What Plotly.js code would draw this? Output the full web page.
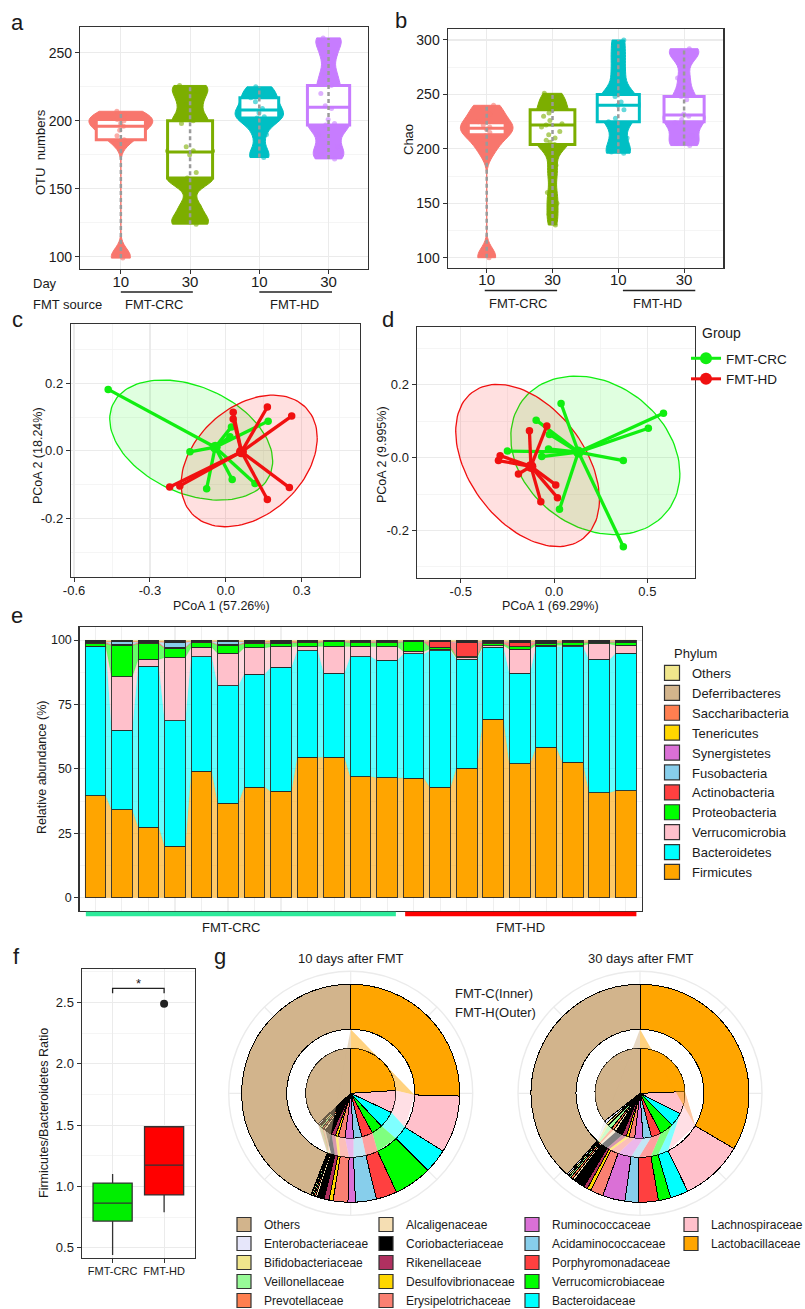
<!DOCTYPE html>
<html><head><meta charset="utf-8">
<script src="https://cdn.plot.ly/plotly-3.0.1.min.js"></script>
<style>html,body{margin:0;padding:0;background:#fff}#chart{width:805px;height:1309px}</style>
</head><body><div id="chart"></div>
<script>
// ================= DATA =================
// Panel a: OTU numbers (estimated per-sample values)
const dayLabels = ['10', '30', '10', '30'];
const otuCRC10 = [99, 101, 186, 189, 193, 196, 198, 200, 201, 203, 205, 207];
const otuCRC30 = [124, 126, 137, 155, 158, 162, 175, 178, 181, 198, 200, 212, 222, 226];
const otuHD10  = [173, 176, 190, 201, 202, 203, 206, 209, 214, 217, 222, 225];
const otuHD30  = [172, 175, 181, 190, 197, 198, 201, 209, 211, 220, 226, 235, 248, 258, 261];
const otuQ1 = [186, 158, 202, 197];
const otuMedian = [196, 177, 208, 210];
const otuQ3 = [201, 200, 217, 226];
// Panel b: Chao
const chaoCRC10 = [100, 102, 197, 205, 212, 215, 218, 220, 222, 225, 232, 238, 240];
const chaoCRC30 = [130, 140, 150, 160, 175, 185, 200, 204, 206, 208, 210, 213, 216, 220, 222, 223, 226, 230, 233, 236, 240, 245, 248, 251];
const chaoHD10  = [196, 197, 210, 225, 228, 236, 240, 243, 248, 255, 270, 285, 300];
const chaoHD30  = [203, 205, 212, 224, 227, 230, 232, 245, 248, 265, 285, 290, 292];
const chaoQ1 = [213, 204, 225, 225];
const chaoMedian = [219, 222, 240, 231];
const chaoQ3 = [224, 236, 250, 248];
// Panel c: PCoA (57.26% / 18.24%)
const cCrcX = [-0.465, -0.142, -0.076, 0.022, 0.016, 0.025, 0.167, 0.115];
const cCrcY = [0.182, -0.003, -0.112, 0.071, 0.042, -0.085, 0.088, -0.097];
const cHdX  = [0.029, 0.029, 0.164, 0.260, 0.251, 0.164, -0.222, -0.182];
const cHdY  = [0.114, 0.094, 0.130, 0.103, -0.109, -0.144, -0.107, -0.104];
// ellipse summaries: [centerX, centerY, halfExtentX, halfExtentY, tilt (cos phi)]
const cCrcEllipse = [-0.137, 0.032, 0.322, 0.178, -0.35];
const cHdEllipse  = [0.092, -0.030, 0.269, 0.195, 0.35];
// Panel d: PCoA (69.29% / 9.995%)
const dCrcX = [0.0375, -0.096, -0.025, -0.030, -0.066, -0.25, 0.586, 0.505, 0.371, 0.029, 0.371];
const dCrcY = [0.149, 0.103, 0.064, 0.024, 0.003, 0.018, 0.122, 0.081, -0.008, -0.142, -0.245];
const dHdX  = [-0.132, -0.039, -0.289, -0.298, -0.191, 0.009, 0.018, -0.071];
const dHdY  = [0.074, 0.087, 0.0055, -0.008, -0.045, -0.075, -0.110, -0.121];
const dCrcEllipse = [0.221, 0.0064, 0.453, 0.218, -0.23];
const dHdEllipse  = [-0.142, -0.0215, 0.385, 0.223, -0.42];
const groupNames = ['FMT-CRC', 'FMT-HD'];
// Panel e: phylum relative abundance (%) for 21 samples (12 FMT-CRC, 9 FMT-HD)
const sampleIdx = [1,2,3,4,5,6,7,8,9,10,11,12,13,14,15,16,17,18,19,20,21];
const firmicutes      = [39.5,34.1,27.4,19.9,49.0,36.7,42.9,41.2,54.5,54.5,47.0,46.5,46.4,42.8,50.3,69.3,51.9,58.3,52.5,40.8,41.5];
const bacteroidetes   = [57.9,30.8,62.5,48.8,44.5,45.5,43.9,48.2,41.4,32.6,46.5,45.7,48.2,53.1,42.3,27.9,35.2,39.3,44.9,51.7,53.3];
const verrucomicrobia = [0.2,20.9,2.6,24.5,3.7,12.6,10.2,8.0,1.7,10.6,4.1,5.3,1.0,0.6,0.5,0.7,9.4,0.4,0.6,6.0,3.2];
const proteobacteria  = [1.0,12.2,6.1,3.6,1.8,3.2,1.6,1.4,1.4,1.6,1.4,1.5,3.7,0.8,0.5,0.7,1.0,0.8,1.0,0.6,1.2];
const actinobacteria  = [0.6,0.3,0.5,0.4,0.3,0.3,0.5,0.4,0.3,0.2,0.3,0.3,0.2,2.0,5.5,0.5,1.5,0.4,0.3,0.3,0.2];
const fusobacteria    = [0.1,1.0,0.2,1.8,0.2,1.2,0.2,0.1,0.1,0.1,0.1,0.1,0.1,0.1,0.1,0.2,0.2,0.1,0.1,0.1,0.1];
const synergistetes   = [0.1,0.1,0.1,0.2,0.1,0.1,0.1,0.1,0.1,0.1,0.1,0.1,0.1,0.1,0.1,0.1,0.1,0.1,0.1,0.1,0.1];
const tenericutes     = [0.1,0.1,0.1,0.2,0.1,0.1,0.1,0.1,0.1,0.1,0.1,0.1,0.1,0.1,0.1,0.1,0.1,0.1,0.1,0.1,0.1];
const saccharibacteria= [0.1,0.1,0.1,0.2,0.1,0.1,0.1,0.1,0.1,0.05,0.1,0.1,0.05,0.1,0.1,0.1,0.1,0.1,0.1,0.1,0.1];
const deferribacteres = [0.1,0.1,0.1,0.2,0.1,0.1,0.1,0.1,0.1,0.05,0.1,0.1,0.05,0.1,0.2,0.1,0.2,0.1,0.1,0.1,0.1];
const otherPhyla      = [0.3,0.3,0.3,0.2,0.1,0.1,0.3,0.3,0.2,0.1,0.2,0.2,0.1,0.2,0.3,0.3,0.3,0.3,0.2,0.1,0.1];
const phylumNames = ['Firmicutes','Bacteroidetes','Verrucomicrobia','Proteobacteria','Actinobacteria','Fusobacteria','Synergistetes','Tenericutes','Saccharibacteria','Deferribacteres','Others'];
// Panel f: Firmicutes/Bacteroidetes ratio box statistics
const fbGroups = ['FMT-CRC', 'FMT-HD'];
const fbQ1 = [0.717, 0.93];
const fbMedian = [0.864, 1.174];
const fbQ3 = [1.027, 1.486];
const fbLower = [0.44, 0.79];
const fbUpper = [1.10, 1.486];
const fbOutlierGroup = ['FMT-HD'];
const fbOutlierValue = [2.49];
// Panel g: family composition (%), listed clockwise from 12 o'clock
const familyNames = ['Lactobacillaceae','Lachnospiraceae','Bacteroidaceae','Verrucomicrobiaceae','Porphyromonadaceae','Acidaminococcaceae','Ruminococcaceae','Erysipelotrichaceae','Desulfovibrionaceae','Rikenellaceae','Coriobacteriaceae','Alcaligenaceae','Prevotellaceae','Veillonellaceae','Bifidobacteriaceae','Enterobacteriaceae','Others'];
const day10Inner = [24, 8, 6, 4, 4, 3, 3, 2.5, 1, 1.5, 2.5, 0.8, 0.7, 0.8, 0.6, 0.6, 37];
const day10Outer = [25.4, 8.5, 3.6, 5.6, 3.1, 3.1, 1.1, 2.2, 0.6, 0.75, 1.0, 0.3, 0.2, 0.2, 0.2, 0.1, 44.05];
const day30Inner = [24.4, 8, 5, 5, 3.5, 3, 3, 2, 1, 1.5, 2.5, 1, 1, 1.5, 1, 1, 35.6];
const day30Outer = [33.47, 9.31, 2.67, 1.83, 3.0, 1.94, 3.33, 1.94, 0.56, 0.56, 1.67, 0.33, 0.33, 0.28, 0.22, 0.22, 38.34];

// ================= STYLE =================
const W = 805, H = 1309;
const px = x => x / W, py = y => 1 - y / H;
const FONT = 'Liberation Sans, Arial, Helvetica, sans-serif';
const TXT = '#1a1a1a';
const GRID = '#EBEBEB', MINOR = '#F3F3F3', FRAME = '#333333';
const COL4 = ['#F8766D', '#7CAE00', '#00BFC4', '#C77CFF'];
const COL4PT = ['rgba(248,118,109,0.6)', 'rgba(124,174,0,0.6)', 'rgba(0,191,196,0.6)', 'rgba(199,124,255,0.6)'];
const GREEN = '#11EE11', RED = '#F01010';
const PHY_COL = {Firmicutes:'#FFA500', Bacteroidetes:'#00FFFF', Verrucomicrobia:'#FFC0CB', Proteobacteria:'#00FF00', Actinobacteria:'#FF4040', Fusobacteria:'#87CEEB', Synergistetes:'#DA70D6', Tenericutes:'#FFD700', Saccharibacteria:'#FF7F50', Deferribacteres:'#D2B48C', Others:'#F0E68C'};
const FAM_COL = {Lactobacillaceae:'#FFA500', Lachnospiraceae:'#FFC0CB', Bacteroidaceae:'#00FFFF', Verrucomicrobiaceae:'#00FF00', Porphyromonadaceae:'#FF4040', Acidaminococcaceae:'#87CEEB', Ruminococcaceae:'#DA70D6', Erysipelotrichaceae:'#FA8072', Desulfovibrionaceae:'#FFD700', Rikenellaceae:'#B03060', Coriobacteriaceae:'#000000', Alcaligenaceae:'#F5DEB3', Prevotellaceae:'#FF7F50', Veillonellaceae:'#98FB98', Bifidobacteriaceae:'#F0E68C', Enterobacteriaceae:'#E6E6FA', Others:'#D2B48C'};
function rgba(hex, a){ const n=parseInt(hex.slice(1),16); return `rgba(${n>>16&255},${n>>8&255},${n&255},${a})`; }

const traces = [];
const shapes = [];
const annotations = [];
function ann(text, x, y, size, o){ annotations.push(Object.assign({text, x:px(x), y:py(y), xref:'paper', yref:'paper', showarrow:false, xanchor:'center', yanchor:'middle', font:{family:FONT, size:size||13, color:TXT}}, o||{})); }

function axis(extra){
  return Object.assign({showline:true, mirror:true, linecolor:FRAME, linewidth:1.2, ticks:'outside', ticklen:4, tickcolor:FRAME, tickwidth:1,
    showgrid:true, gridcolor:GRID, gridwidth:1.1, zeroline:false, tickfont:{family:FONT, size:13, color:TXT}, fixedrange:true}, extra);
}

// ================= PANELS a, b =================
function violinPanel(groups, q1, med, q3, xa, ya, vWidth, bWidth, bandw){
  groups.forEach((vals, i) => traces.push({type:'violin', x:vals.map(() => i), y:vals, xaxis:xa, yaxis:ya,
    fillcolor:COL4[i], line:{color:COL4[i], width:1}, opacity:1, points:false, box:{visible:false}, meanline:{visible:false},
    spanmode:'hard', scalemode:'width', width:vWidth[i], bandwidth:bandw, showlegend:false, hoverinfo:'skip'}));
  groups.forEach((vals, i) => traces.push({type:'box', x:[i], q1:[q1[i]], median:[med[i]], q3:[q3[i]], lowerfence:[q1[i]], upperfence:[q3[i]],
    xaxis:xa, yaxis:ya, fillcolor:'#ffffff', line:{color:COL4[i], width:3}, width:bWidth[i], whiskerwidth:0, boxpoints:false, showlegend:false, hoverinfo:'skip'}));
  groups.forEach((vals, i) => traces.push({type:'box', x:vals.map(() => i), y:vals, xaxis:xa, yaxis:ya, boxpoints:'all', jitter:0.7, pointpos:0, width:0.5,
    fillcolor:'rgba(0,0,0,0)', line:{color:'rgba(0,0,0,0)', width:0}, marker:{color:COL4PT[i], size:5}, showlegend:false, hoverinfo:'skip'}));
  groups.forEach((vals, i) => traces.push({type:'scatter', mode:'lines', x:[i, i], y:[Math.min(...vals), Math.max(...vals)], xaxis:xa, yaxis:ya,
    line:{color:'#9a9a9a', width:2.5, dash:'4px,3px'}, showlegend:false, hoverinfo:'skip'}));
}
violinPanel([otuCRC10, otuCRC30, otuHD10, otuHD30], otuQ1, otuMedian, otuQ3, 'x', 'y', [0.92, 0.7, 0.7, 0.62], [0.71, 0.65, 0.56, 0.61], 6);
violinPanel([chaoCRC10, chaoCRC30, chaoHD10, chaoHD30], chaoQ1, chaoMedian, chaoQ3, 'x2', 'y2', [0.8, 0.62, 0.66, 0.64], [0.56, 0.68, 0.64, 0.61], 8);

// ================= PANELS c, d =================
function ellipseXY(e){
  const [cx, cy, sx, sy, c] = e; const s = Math.sqrt(1 - c*c); const xs = [], ys = [];
  for (let k = 0; k <= 120; k++){ const t = 2*Math.PI*k/120; xs.push(cx + sx*Math.cos(t)); ys.push(cy + sy*(Math.cos(t)*c + Math.sin(t)*s)); }
  return [xs, ys];
}
function mean(a){ return a.reduce((p, v) => p + v, 0) / a.length; }
function pcoaPanel(gx, gy, hx, hy, eG, eH, xa, ya){
  [[eG, GREEN, 'rgba(0,255,0,0.12)'], [eH, RED, 'rgba(255,0,0,0.12)']].forEach(([e, col, fc]) => {
    const [xs, ys] = ellipseXY(e);
    traces.push({type:'scatter', mode:'lines', x:xs, y:ys, xaxis:xa, yaxis:ya, fill:'toself', fillcolor:fc, line:{color:col, width:1.3}, showlegend:false, hoverinfo:'skip'});
  });
  [[gx, gy, GREEN], [hx, hy, RED]].forEach(([X, Y, col]) => {
    const mx = mean(X), my = mean(Y); const lx = [], ly = [];
    X.forEach((v, k) => { lx.push(mx, v, null); ly.push(my, Y[k], null); });
    traces.push({type:'scatter', mode:'lines', x:lx, y:ly, xaxis:xa, yaxis:ya, line:{color:col, width:3.3}, showlegend:false, hoverinfo:'skip'});
    traces.push({type:'scatter', mode:'markers', x:X, y:Y, xaxis:xa, yaxis:ya, marker:{color:col, size:7.5}, showlegend:false, hoverinfo:'skip'});
    traces.push({type:'scatter', mode:'markers', x:[mx], y:[my], xaxis:xa, yaxis:ya, marker:{color:col, size:11}, showlegend:false, hoverinfo:'skip'});
  });
}
pcoaPanel(cCrcX, cCrcY, cHdX, cHdY, cCrcEllipse, cHdEllipse, 'x3', 'y3');
pcoaPanel(dCrcX, dCrcY, dHdX, dHdY, dCrcEllipse, dHdEllipse, 'x4', 'y4');
[[groupNames[0], GREEN], [groupNames[1], RED]].forEach(([nm, col]) => traces.push({type:'scatter', mode:'lines+markers', x:[null], y:[null], xaxis:'x4', yaxis:'y4',
  name:nm, legend:'legend', line:{color:col, width:3}, marker:{color:col, size:12}, showlegend:true, hoverinfo:'skip'}));

// ================= PANEL e =================
const phylumValues = [firmicutes, bacteroidetes, verrucomicrobia, proteobacteria, actinobacteria, fusobacteria, synergistetes, tenericutes, saccharibacteria, deferribacteres, otherPhyla];
const BARW = 0.78;
const cum = sampleIdx.map(() => 0);
// translucent flows (base axes, drawn under the bars which sit on overlaying axes)
phylumValues.forEach((vals, p) => {
  const bot = cum.slice(); const top = bot.map((b, i) => b + vals[i]);
  const fx = [], fy = [];
  sampleIdx.forEach((x, i) => { fx.push(x - BARW/2, x + BARW/2); fy.push(top[i], top[i]); });
  for (let i = sampleIdx.length - 1; i >= 0; i--){ fx.push(sampleIdx[i] + BARW/2, sampleIdx[i] - BARW/2); fy.push(bot[i], bot[i]); }
  fx.push(fx[0]); fy.push(fy[0]);
  const fc = rgba(PHY_COL[phylumNames[p]], 0.6);
  traces.push({type:'scatter', mode:'lines', x:fx, y:fy, xaxis:'x5', yaxis:'y5', fill:'toself', fillcolor:fc,
    line:{width:0.3, color:fc}, showlegend:false, hoverinfo:'skip'});
  top.forEach((t, i) => cum[i] = t);
});
phylumValues.forEach((vals, p) => traces.push({type:'bar', x:sampleIdx, y:vals, xaxis:'x7', yaxis:'y7', width:BARW, name:phylumNames[p],
  marker:{color:PHY_COL[phylumNames[p]], line:{color:'#2a2a2a', width:0.9}}, showlegend:false, hoverinfo:'skip'}));
phylumNames.slice().reverse().forEach(nm => traces.push({type:'scatter', mode:'markers', x:[null], y:[null], xaxis:'x5', yaxis:'y5', name:nm, legend:'legend2',
  marker:{symbol:'square', size:15, color:PHY_COL[nm], line:{color:'#333', width:1.2}}, showlegend:true, hoverinfo:'skip'}));

// ================= PANEL f =================
fbGroups.forEach((g, i) => traces.push({type:'box', x:[g], q1:[fbQ1[i]], median:[fbMedian[i]], q3:[fbQ3[i]], lowerfence:[fbLower[i]], upperfence:[fbUpper[i]],
  xaxis:'x6', yaxis:'y6', fillcolor: i === 0 ? '#00EE00' : '#FF0000', line:{color:'#333', width:1.3}, width:0.76, whiskerwidth:0, boxpoints:false, showlegend:false, hoverinfo:'skip'}));
traces.push({type:'scatter', mode:'markers', x:fbOutlierGroup, y:fbOutlierValue, xaxis:'x6', yaxis:'y6', marker:{color:'#222', size:8}, showlegend:false, hoverinfo:'skip'});

// ================= PANEL g =================
function polarPanel(inner, outer, sub){
  traces.push({type:'barpolar', subplot:sub, r:[19, 19], base:[45, 45], theta:[90, 270], width:[180, 180], marker:{color:'#ffffff', line:{width:0}}, showlegend:false, hoverinfo:'skip'});
  let ci = 0, co = 0; const spans = [];
  familyNames.forEach((f, k) => {
    const si = inner[k]*3.6, so = outer[k]*3.6;
    traces.push({type:'barpolar', subplot:sub, r:[45, 45], base:[0, 64], theta:[ci + si/2, co + so/2], width:[si, so],
      marker:{color:FAM_COL[f], line:{color:'#000', width:1}}, showlegend:false, hoverinfo:'skip'});
    spans.push([ci, ci + si, co, co + so]); ci += si; co += so;
  });
  familyNames.forEach((f, k) => {
    const [a0, a1, b0, b1] = spans[k]; const r = [], th = [];
    const n = Math.max(2, Math.ceil((a1 - a0)/2));
    for (let j = 0; j <= n; j++){ r.push(45); th.push(a0 + (a1 - a0)*j/n); }
    r.push(64, 64, 45); th.push(b1, b0, a0);
    traces.push({type:'scatterpolar', subplot:sub, r, theta:th, mode:'lines', fill:'toself', fillcolor:rgba(FAM_COL[f], 0.5),
      line:{width:0, color:'rgba(0,0,0,0)'}, showlegend:false, hoverinfo:'skip'});
  });
}
polarPanel(day10Inner, day10Outer, 'polar');
polarPanel(day30Inner, day30Outer, 'polar2');
familyNames.slice().reverse().forEach((nm, k) => traces.push({type:'scatter', mode:'markers', x:[null], y:[null], xaxis:'x5', yaxis:'y5', name:nm,
  legend:'legend' + (3 + Math.floor(k/5)), marker:{symbol:'square', size:14, color:FAM_COL[nm], line:{color:'#333', width:1.2}}, showlegend:true, hoverinfo:'skip'}));

// ================= DECORATION =================
const LETTER = 22;
ann('a', 17, 22, LETTER); ann('b', 401, 21, LETTER); ann('c', 17, 319, LETTER); ann('d', 388, 319, LETTER);
ann('e', 17, 615, LETTER); ann('f', 16, 957, LETTER); ann('g', 220, 957, LETTER);
ann('OTU  numbers', 40, 152, 13, {textangle:-90});
ann('Chao', 409, 140, 13, {textangle:-90});
ann('Day', 31, 283, 13, {xanchor:'left'});
ann('FMT source', 31, 304, 13, {xanchor:'left'});
ann('FMT-CRC', 154, 304, 13); ann('FMT-HD', 294, 304, 13);
ann('FMT-CRC', 518, 303, 13); ann('FMT-HD', 657, 303, 13);
[['x', 0, 1.04, 292], ['x', 2.0, 3.05, 292], ['x2', -0.03, 1.07, 290.5], ['x2', 2.07, 3.17, 290.5]].forEach(([xr, a, b, y]) =>
  shapes.push({type:'line', xref:xr, yref:'paper', x0:a, x1:b, y0:py(y), y1:py(y), line:{color:'#222', width:1.5}}));
ann('PCoA 1 (57.26%)', 221, 606, 12.5); ann('PCoA 2 (18.24%)', 38, 456, 12.5, {textangle:-90});
ann('PCoA 1 (69.29%)', 550, 606, 12.5); ann('PCoA 2 (9.995%)', 382, 455, 12.5, {textangle:-90});
ann('Group', 700, 333, 14, {xanchor:'left'});
ann('Relative abundance (%)', 42, 768, 12.5, {textangle:-90});
ann('Phylum', 672, 653, 13, {xanchor:'left'});
ann('FMT-CRC', 231, 927, 13); ann('FMT-HD', 520, 927, 13);
shapes.push({type:'line', xref:'x5', yref:'paper', x0:0.64, x1:12.33, y0:py(914), y1:py(914), line:{color:'#2DEB9B', width:4.5}});
shapes.push({type:'line', xref:'x5', yref:'paper', x0:12.68, x1:21.40, y0:py(914), y1:py(914), line:{color:'#FF0000', width:4.5}});
ann('Firmicutes/Bacteroidetes Ratio', 44, 1113, 12.5, {textangle:-90});
shapes.push({type:'path', xref:'x6', yref:'y6', path:'M0,2.575 L0,2.614 L1,2.614 L1,2.575', line:{color:'#222', width:1.3}});
annotations.push({text:'*', x:0.5, y:2.655, xref:'x6', yref:'y6', showarrow:false, font:{family:FONT, size:13, color:TXT}});
ann('10 days after FMT', 351, 958, 13); ann('30 days after FMT', 641, 958, 13);
ann('FMT-C(Inner)', 453, 993, 13, {xanchor:'left'}); ann('FMT-H(Outer)', 453, 1012, 13, {xanchor:'left'});

// ================= LAYOUT =================
function legendAt(x, y, size){ return {x:px(x), y:py(y), xanchor:'left', yanchor:'top', bgcolor:'rgba(0,0,0,0)', borderwidth:0, tracegroupgap:0, traceorder:'normal',
  font:{family:FONT, size:size, color:TXT}, itemclick:false, itemdoubleclick:false}; }
function polarLayout(x0, x1){ return {domain:{x:[px(x0), px(x1)], y:[py(1215.3), py(971.3)]}, bgcolor:'#ffffff', barmode:'overlay', hole:0,
  radialaxis:{visible:false, range:[0, 122]},
  angularaxis:{rotation:90, direction:'clockwise', showticklabels:false, ticks:'', showgrid:true, gridcolor:GRID, gridwidth:1.2,
    showline:true, linecolor:GRID, linewidth:1.4, tickmode:'linear', tick0:0, dtick:45}}; }

const eX = [px(79.5), px(641.7)], eY = [py(910.7), py(626.7)];
const layout = {
  width:W, height:H, margin:{l:0, r:0, t:0, b:0, autoexpand:false}, paper_bgcolor:'#fff', plot_bgcolor:'#fff',
  font:{family:FONT, color:TXT}, hovermode:false, showlegend:true,
  violinmode:'overlay', boxmode:'overlay', barmode:'stack', bargap:0,
  xaxis: axis({domain:[px(80), px(368)], anchor:'y', range:[-0.59, 3.57], tickvals:[0,1,2,3], ticktext:dayLabels, tickfont:{family:FONT, size:15, color:TXT}, ticklabelstandoff:-5}),
  yaxis: axis({domain:[py(269), py(27)], anchor:'x', range:[91, 269], tickvals:[100,150,200,250], tickfont:{family:FONT, size:14, color:TXT},
    minor:{tickvals:[125,175,225], showgrid:true, gridcolor:MINOR, gridwidth:0.8, ticks:''}}),
  xaxis2: axis({domain:[px(447.7), px(723.3)], anchor:'y2', range:[-0.593, 3.596], tickvals:[0,1,2,3], ticktext:dayLabels, tickfont:{family:FONT, size:15, color:TXT}, ticklabelstandoff:-6}),
  yaxis2: axis({domain:[py(267.7), py(29)], anchor:'x2', range:[90.8, 310.1], tickvals:[100,150,200,250,300], tickfont:{family:FONT, size:14, color:TXT},
    minor:{tickvals:[125,175,225,275], showgrid:true, gridcolor:MINOR, gridwidth:0.8, ticks:''}}),
  xaxis3: axis({domain:[px(71), px(360)], anchor:'y3', range:[-0.612, 0.53], tickvals:[-0.6,-0.3,0,0.3], ticktext:['-0.6','-0.3','0.0','0.3'], ticklabelstandoff:-3,
    minor:{tickvals:[-0.45,-0.15,0.15,0.45], showgrid:true, gridcolor:MINOR, gridwidth:0.8, ticks:''}}),
  yaxis3: axis({domain:[py(576.7), py(324.3)], anchor:'x3', range:[-0.373, 0.375], tickvals:[-0.2,0,0.2], ticktext:['-0.2','0.0','0.2'],
    minor:{tickvals:[-0.3,-0.1,0.1,0.3], showgrid:true, gridcolor:MINOR, gridwidth:0.8, ticks:''}}),
  xaxis4: axis({domain:[px(416.7), px(695)], anchor:'y4', range:[-0.736, 0.755], tickvals:[-0.5,0,0.5], ticktext:['-0.5','0.0','0.5'], ticklabelstandoff:-3,
    minor:{tickvals:[-0.25,0.25], showgrid:true, gridcolor:MINOR, gridwidth:0.8, ticks:''}}),
  yaxis4: axis({domain:[py(577.7), py(326.7)], anchor:'x4', range:[-0.33, 0.36], tickvals:[-0.2,0,0.2], ticktext:['-0.2','0.0','0.2'],
    minor:{tickvals:[-0.3,-0.1,0.1,0.3], showgrid:true, gridcolor:MINOR, gridwidth:0.8, ticks:''}}),
  xaxis5: axis({domain:eX, anchor:'y5', range:[0.4, 21.6], tickvals:sampleIdx, showticklabels:false, ticklen:3, gridcolor:'#EFEFEF'}),
  yaxis5: axis({domain:eY, anchor:'x5', range:[-5.1, 105.2], tickvals:[0,25,50,75,100], tickfont:{family:FONT, size:12.5, color:TXT},
    minor:{tickvals:[12.5,37.5,62.5,87.5], showgrid:true, gridcolor:MINOR, gridwidth:0.8, ticks:''}}),
  xaxis7: {overlaying:'x5', anchor:'y7', range:[0.4, 21.6], visible:false, fixedrange:true},
  yaxis7: {overlaying:'y5', anchor:'x7', range:[-5.1, 105.2], visible:false, fixedrange:true},
  xaxis6: axis({domain:[px(81.7), px(195)], anchor:'y6', type:'category', categoryarray:fbGroups, range:[-0.6, 1.6], tickangle:0, tickfont:{family:FONT, size:11, color:TXT}, ticklabelstandoff:-1}),
  yaxis6: axis({domain:[py(1258), py(969.3)], anchor:'x6', range:[0.416, 2.77], tickvals:[0.5,1,1.5,2,2.5], ticktext:['0.5','1.0','1.5','2.0','2.5'],
    minor:{tickvals:[0.75,1.25,1.75,2.25,2.75], showgrid:true, gridcolor:MINOR, gridwidth:0.8, ticks:''}}),
  polar: polarLayout(228.7, 472.7),
  polar2: polarLayout(518, 762),
  legend: legendAt(686, 343, 13.5),
  legend2: legendAt(652, 658, 13),
  legend3: legendAt(224, 1210, 12),
  legend4: legendAt(366, 1210, 12),
  legend5: legendAt(512, 1210, 12),
  legend6: legendAt(671, 1210, 12),
  shapes, annotations
};
Plotly.newPlot('chart', traces, layout, {displayModeBar:false, staticPlot:true});
</script></body></html>
